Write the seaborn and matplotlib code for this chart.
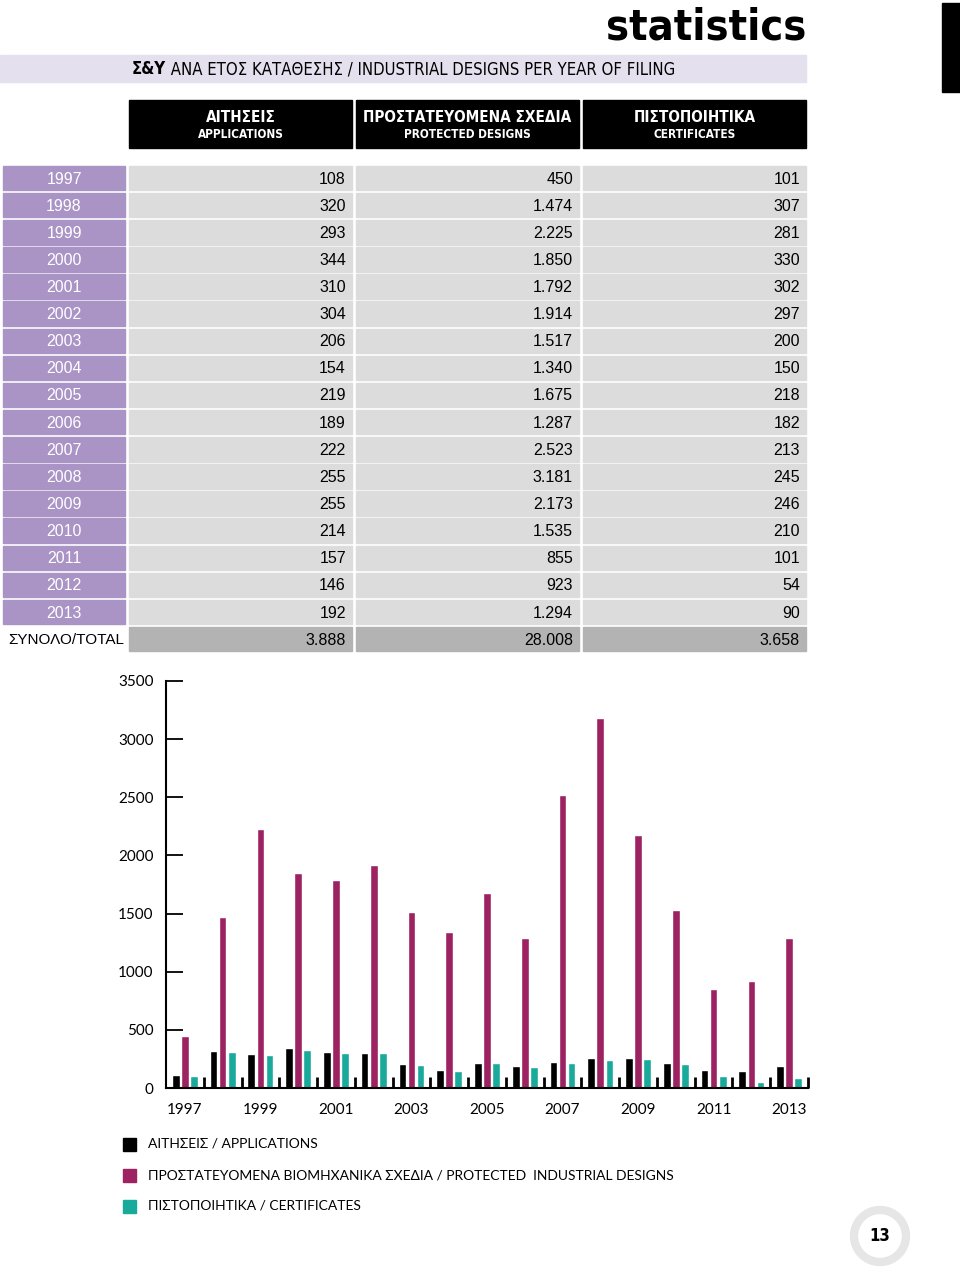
import pandas as pd
import matplotlib.pyplot as plt
import seaborn as sb
import numpy as np
from matplotlib import font_manager
from matplotlib.font_manager import FontProperties
from matplotlib.patches import Rectangle, Circle

years = [1997, 1998, 1999, 2000, 2001, 2002, 2003, 2004, 2005,
         2006, 2007, 2008, 2009, 2010, 2011, 2012, 2013]
applications = [108, 320, 293, 344, 310, 304, 206, 154, 219,
                189, 222, 255, 255, 214, 157, 146, 192]
protected = [450, 1474, 2225, 1850, 1792, 1914, 1517, 1340, 1675,
             1287, 2523, 3181, 2173, 1535, 855, 923, 1294]
certificates = [101, 307, 281, 330, 302, 297, 200, 150, 218,
                182, 213, 245, 246, 210, 101, 54, 90]
totals = [3888, 28008, 3658]

col_heads = [('ΑΙΤΗΣΕΙΣ', 'APPLICATIONS'),
             ('ΠΡΟΣΤΑΤΕΥΟΜΕΝΑ ΣΧΕΔΙΑ', 'PROTECTED DESIGNS'),
             ('ΠΙΣΤΟΠΟΙΗΤΙΚΑ', 'CERTIFICATES')]
series_names = ['ΑΙΤΗΣΕΙΣ / APPLICATIONS',
                'ΠΡΟΣΤΑΤΕΥΟΜΕΝΑ ΒΙΟΜΗΧΑΝΙΚΑ ΣΧΕΔΙΑ / PROTECTED  INDUSTRIAL DESIGNS',
                'ΠΙΣΤΟΠΟΙΗΤΙΚΑ / CERTIFICATES']
colors = ['#000000', '#9c2262', '#1aaa9c']

sb.set_style('white')
plt.rcParams['font.family'] = ['Liberation Sans', 'DejaVu Sans']
plt.rcParams['text.color'] = 'black'
plt.rcParams['xtick.color'] = 'black'
plt.rcParams['ytick.color'] = 'black'

# look for a condensed face (for the headings)
def find_narrow(bold):
    best = None
    for f in font_manager.fontManager.ttflist:
        w = f.weight
        if isinstance(w, str):
            w = font_manager.weight_dict.get(w, 400)
        if (w >= 600) != bold or f.style != 'normal':
            continue
        st = str(f.stretch)
        if 'Narrow' in f.name or 'Condensed' in f.name or 'condensed' in st:
            if best is None or 'Liberation' in f.name:
                best = f.fname
    return best

nb, nr = find_narrow(True), find_narrow(False)
found_narrow = nb is not None and nr is not None
if found_narrow:
    NB, NR = FontProperties(fname=nb), FontProperties(fname=nr)
else:
    NB = FontProperties(family='Liberation Sans', weight='bold')
    NR = FontProperties(family='Liberation Sans')

W, H = 960, 1268
fig = plt.figure(figsize=(W / 100, H / 100), dpi=100)
bg = fig.add_axes([0, 0, 1, 1])
bg.set_xlim(0, W)
bg.set_ylim(H, 0)
bg.axis('off')

def fmt(v):
    return f'{v:,}'.replace(',', '.')

def nfont(base, size):
    p = base.copy()
    p.set_size(size if found_narrow else size * 0.85)
    return p

# header
bg.text(806, 40, 'statistics', ha='right', va='baseline',
        fontproperties=nfont(NB, 31))
bg.add_patch(Rectangle((942, 3), 18, 89, color='black'))
bg.add_patch(Rectangle((0, 55), 806, 27, color='#e4e0ee'))
t1 = bg.text(132, 69, 'Σ&Y', ha='left', va='center', fontproperties=nfont(NB, 12))
bg.annotate(' ΑΝΑ ΕΤΟΣ ΚΑΤΑΘΕΣΗΣ / INDUSTRIAL DESIGNS PER YEAR OF FILING',
            xy=(1, 0), xycoords=t1, ha='left', va='bottom',
            fontproperties=nfont(NR, 12))

col_x = [(129, 352), (356, 579), (583, 806)]
for (x0, x1), (gr, en) in zip(col_x, col_heads):
    bg.add_patch(Rectangle((x0, 100), x1 - x0, 48, color='black'))
    xc = (x0 + x1) / 2
    bg.text(xc, 117, gr, ha='center', va='center', color='white',
            fontproperties=nfont(NB, 11))
    bg.text(xc, 134, en, ha='center', va='center', color='white',
            fontproperties=nfont(NB, 8.5))

# table
pitch = 27.125
for i, yr in enumerate(years):
    yc = 178 + pitch * i
    bg.add_patch(Rectangle((3, yc - 12.2), 122, 24.5, color='#a994c5'))
    bg.text(64, yc + 1, str(yr), ha='center', va='center', color='white', fontsize=11.5)
    for (x0, x1), vals in zip(col_x, [applications, protected, certificates]):
        bg.add_patch(Rectangle((x0, yc - 12.2), x1 - x0, 24.5, color='#dcdcdd'))
        bg.text(x1 - 6, yc + 1, fmt(vals[i]), ha='right', va='center', fontsize=11.5)
yc = 178 + pitch * len(years)
bg.text(8, yc + 1, 'ΣΥΝΟΛΟ/TOTAL', ha='left', va='center', fontsize=11)
for (x0, x1), v in zip(col_x, totals):
    bg.add_patch(Rectangle((x0, yc - 12.2), x1 - x0, 24.5, color='#b3b3b3'))
    bg.text(x1 - 6, yc + 1, fmt(v), ha='right', va='center', fontsize=11.5)

# bar chart
df = pd.DataFrame({'year': [str(y) for y in years] * 3,
                   'value': applications + protected + certificates,
                   'series': np.repeat(series_names, len(years))})
ax = fig.add_axes([166 / W, (H - 1088) / H, (808 - 166) / W, (1088 - 681) / H])
sb.barplot(data=df, x='year', y='value', hue='series', hue_order=series_names,
           palette=colors, width=0.72, gap=0.15, legend=False, ax=ax,
           saturation=1)
ax.set_xlim(-0.5, 16.5)
ax.set_ylim(0, 3500)
ax.set_yticks(np.arange(0, 3501, 500))
ax.set_xticks(range(0, 17, 2))
ax.set_xticklabels([str(y) for y in years[::2]], family='Lato')
ax.set_yticklabels([str(v) for v in range(0, 3501, 500)], family='Lato')
ax.set_xticks(np.arange(0.5, 17, 1), minor=True)
ax.tick_params(axis='y', direction='in', length=12, width=1.3, pad=9,
               labelsize=11, left=True)
ax.tick_params(axis='x', which='major', length=0, pad=11, labelsize=11)
ax.tick_params(axis='x', which='minor', direction='in', length=8, width=2,
               bottom=True)
ax.set_xlabel('')
ax.set_ylabel('')
for s in ['top', 'right']:
    ax.spines[s].set_visible(False)
for s in ['left', 'bottom']:
    ax.spines[s].set_color('black')
    ax.spines[s].set_linewidth(1.5)
ax.set_facecolor('none')

# legend
for k, (lab, c) in enumerate(zip(series_names, colors)):
    ly = 1144 + 31 * k
    bg.add_patch(Rectangle((123, ly - 6.5), 13, 13, color=c))
    bg.text(148, ly, lab, ha='left', va='center', fontsize=10, family='Lato')

# page number
bg.add_patch(Circle((880, 1236), 26, fill=False, lw=6, ec='#e6e6e6'))
bg.text(880, 1236, '13', ha='center', va='center', fontproperties=nfont(NB, 12))

plt.savefig('out.png', dpi=100)
